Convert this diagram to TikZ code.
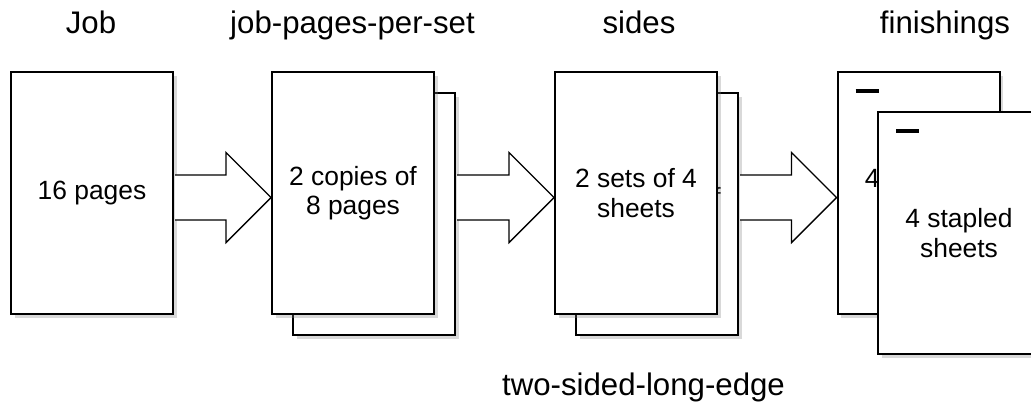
\documentclass[tikz,border=0pt]{standalone}
\usepackage{fontspec}
\setmainfont{Liberation Sans}
\usetikzlibrary{shadows,calc}

\tikzset{
    sheet/.style={
        draw,line width=1pt,fill=white,
        minimum width=81pt,minimum height=121pt,
        align=center,font=\fontsize{13.2}{14.8}\selectfont,
        drop shadow={shadow xshift=1.8pt,shadow yshift=-1.8pt,opacity=.3}
    },
    heading/.style={font=\fontsize{15.6}{18}\selectfont,anchor=base},
    fat arrow/.style={draw,line width=.7pt,fill=white,line join=miter},
    staple/.style={line width=1.6pt}
}

% block arrow from the right side of #1 to the left side of #2
\newcommand{\fatarrow}[2]{%
    \draw[fat arrow] let \p1=(#1.east), \p2=(#2.west) in
        ({\x1+.5pt},{\y2-13.5pt}) -- ({\x2-22.5pt},{\y2-13.5pt})
        -- ({\x2-22.5pt},{\y2-24.75pt}) -- (\x2,{\y2-2.25pt})
        -- ({\x2-22.5pt},{\y2+20.25pt}) -- ({\x2-22.5pt},{\y2+9pt})
        -- ({\x1+.5pt},{\y2+9pt});
}

\begin{document}
\begin{tikzpicture}[x=.5pt,y=-.5pt]
    \clip (0,0) rectangle (1031,404);

    % job
    \node[sheet] (b1) at (92,193) {16 pages};

    % job-pages-per-set
    \node[sheet] (b2back) at (374,214) {};
    \node[sheet] (b2) at (353,193) {2 copies of\\8 pages};

    % sides
    \node[sheet] (b3back) at (657,214) {2 copies of\\8 pages};
    \node[sheet] (b3) at (636,193) {2 sets of 4\\sheets};

    % finishings
    \node[sheet] (b4back) at (918.5,193) {4 stapled\\sheets};
    \draw[staple] ($(b4back.north west)+(19,20)$) -- ++(23,0);
    \node[sheet] (b4) at (959,233) {4 stapled\\sheets};
    \draw[staple] ($(b4.north west)+(19,20)$) -- ++(23,0);

    \fatarrow{b1}{b2}
    \fatarrow{b2back}{b3}
    \fatarrow{b3back}{b4back}

    \node[heading] (lJob) at (91,33) {Job};
    \node[heading] (lSet) at (352.5,33) {job-pages-per-set};
    \node[heading] (lSides) at (639,33) {sides};
    \node[heading] (lFinish) at (945,33) {finishings};
    \node[heading] (lEdge) at (643.5,395) {two-sided-long-edge};
\end{tikzpicture}
\end{document}
